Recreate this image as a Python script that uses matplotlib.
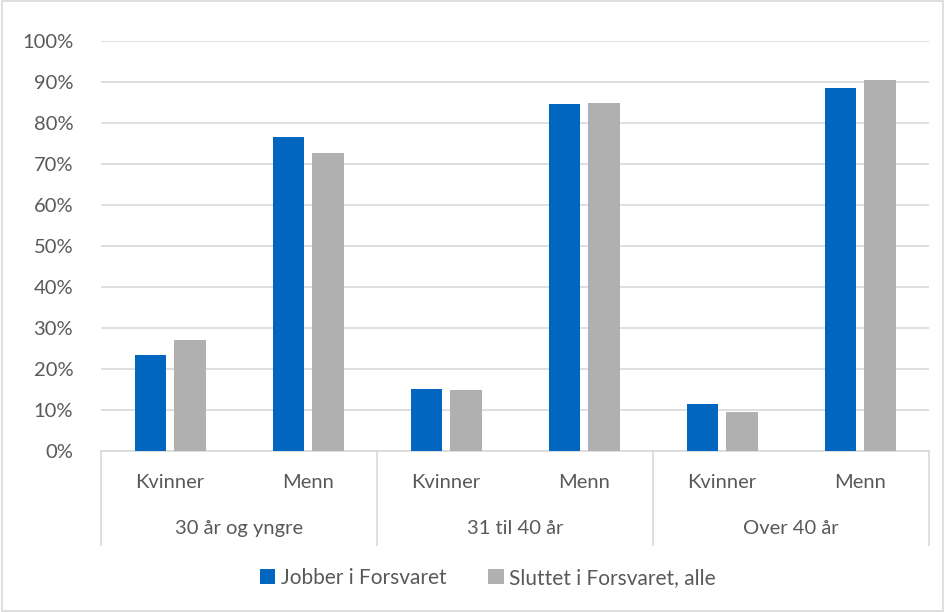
import matplotlib
matplotlib.use("Agg")
import matplotlib.pyplot as plt
from matplotlib.patches import Rectangle
from matplotlib.transforms import blended_transform_factory
import numpy as np

groups = ["30 år og yngre", "31 til 40 år", "Over 40 år"]
subcats = ["Kvinner", "Menn"]
series_names = ["Jobber i Forsvaret", "Sluttet i Forsvaret, alle"]
jobber = [23.4, 76.6, 15.2, 84.7, 11.4, 88.5]
sluttet = [27.1, 72.8, 14.8, 85.0, 9.4, 90.5]
yticks = list(range(0, 101, 10))

blue = "#0066C0"
gray = "#B0B0B0"
txt = "#595959"
grid = "#D9D9D9"
fs = 14.5

plt.rcParams['font.family'] = ['Lato', 'DejaVu Sans']

fig = plt.figure(figsize=(9.45, 6.12), dpi=100)
ax = fig.add_axes([101/945, 1-451/612, 828/945, 410/612])

x = np.arange(len(jobber))
w = 0.225
ax.bar(x - 0.14, jobber, width=w, color=blue, zorder=3, label=series_names[0])
ax.bar(x + 0.145, sluttet, width=w, color=gray, zorder=3, label=series_names[1])

ax.set_xlim(-0.5, len(jobber) - 0.5)
ax.set_ylim(0, 100)
ax.set_yticks(yticks)
ax.set_yticklabels([f"{t}%" for t in yticks], color=txt, fontsize=fs)
ax.tick_params(axis='y', length=0, pad=20)
ax.set_xticks([])
ax.grid(axis='y', color=grid, linewidth=1.2, zorder=0)
for s in ["top", "right", "left"]:
    ax.spines[s].set_visible(False)
ax.spines["bottom"].set_color(grid)
ax.spines["bottom"].set_linewidth(1.2)

trans = blended_transform_factory(ax.transData, ax.transAxes)
for i in range(len(jobber)):
    ax.text(x[i], -0.078, subcats[i % 2], transform=trans, ha='center', va='center',
            color=txt, fontsize=fs)
for g, name in enumerate(groups):
    ax.text(2*g + 0.5, -0.188, name, transform=trans, ha='center', va='center',
            color=txt, fontsize=fs)
for b in range(len(groups) + 1):
    ax.plot([2*b - 0.5, 2*b - 0.5], [0, -0.229], transform=trans, color=grid,
            linewidth=1.2, clip_on=False)

leg = fig.legend(loc='center', bbox_to_anchor=(0.516, 1-578/612), ncol=2, frameon=False,
                 handlelength=0.75, handleheight=0.75, handletextpad=0.25, columnspacing=2.0,
                 fontsize=15)
for t in leg.get_texts():
    t.set_color(txt)

fig.patches.append(Rectangle((0.002, 0.002), 0.996, 0.996, transform=fig.transFigure,
                             fill=False, edgecolor=grid, linewidth=1.2))

fig.savefig("out.png", dpi=100)
